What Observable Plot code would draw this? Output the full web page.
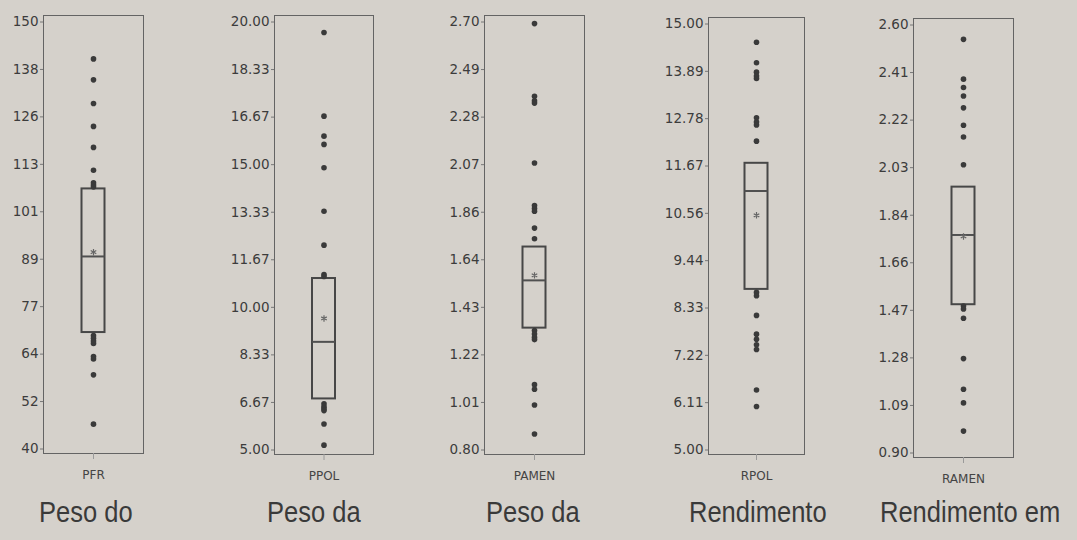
<!DOCTYPE html>
<html>
<head>
<meta charset="utf-8">
<script src="https://cdn.jsdelivr.net/npm/d3@7"></script>
<script src="https://cdn.jsdelivr.net/npm/@observablehq/plot@0.6"></script>
<style>
  html, body { margin: 0; padding: 0; background: #d5d1cb; }
  #chart { position: relative; width: 1077px; height: 540px; overflow: hidden; background: #d5d1cb; }
  .panel { position: absolute; top: 0; }
  .cap { position: absolute; top: 498px; font-family: "Liberation Sans", Arial, sans-serif; font-size: 29px; color: #3a3a3a; white-space: nowrap; line-height: 1; transform-origin: left center; transform: scaleX(0.88); }
</style>
</head>
<body>
<div id="chart"></div>
<script>
// ---- data ----
const variables = ["PFR", "PPOL", "PAMEN", "RPOL", "RAMEN"];
const captions = ["Peso do", "Peso da", "Peso da", "Rendimento", "Rendimento em"];

const pfrPoints = [140.5, 135.1, 129.0, 123.1, 117.7, 111.8, 108.6, 108.0, 107.5, 69.2, 68.5, 67.8, 67.2, 63.8, 63.2, 59.1, 46.4];
const ppolPoints = [19.63, 16.70, 16.00, 15.71, 14.89, 13.37, 12.18, 11.15, 11.08, 6.62, 6.52, 6.45, 6.38, 5.91, 5.17];
const pamenPoints = [2.693, 2.37, 2.35, 2.34, 2.074, 1.885, 1.872, 1.86, 1.785, 1.738, 1.33, 1.315, 1.30, 1.29, 1.09, 1.07, 1.00, 0.871];
const rpolPoints = [14.57, 14.09, 13.87, 13.78, 13.72, 12.80, 12.70, 12.63, 12.25, 8.70, 8.62, 8.16, 7.72, 7.60, 7.47, 7.36, 6.41, 6.02];
const ramenPoints = [2.543, 2.385, 2.352, 2.318, 2.271, 2.202, 2.155, 2.045, 1.484, 1.472, 1.435, 1.275, 1.153, 1.099, 0.987];

const q1Values = [70.0, 6.79, 1.341, 8.77, 1.489];
const medianValues = [89.6, 8.79, 1.553, 11.08, 1.766];
const q3Values = [107.0, 11.01, 1.701, 11.73, 1.956];
const meanValues = [90.7, 9.61, 1.575, 10.51, 1.76];

const yMin = [40, 5, 0.80, 5, 0.90];
const yMax = [150, 20, 2.70, 15, 2.60];
const tickLabels = [
  ["40", "52", "64", "77", "89", "101", "113", "126", "138", "150"],
  ["5.00", "6.67", "8.33", "10.00", "11.67", "13.33", "15.00", "16.67", "18.33", "20.00"],
  ["0.80", "1.01", "1.22", "1.43", "1.64", "1.86", "2.07", "2.28", "2.49", "2.70"],
  ["5.00", "6.11", "7.22", "8.33", "9.44", "10.56", "11.67", "12.78", "13.89", "15.00"],
  ["0.90", "1.09", "1.28", "1.47", "1.66", "1.84", "2.03", "2.22", "2.41", "2.60"]
];
const allPoints = [pfrPoints, ppolPoints, pamenPoints, rpolPoints, ramenPoints];

// ---- layout (pixels) ----
const frameLeft = [43, 274, 484, 708, 913];
const frameWidth = [100, 99, 100, 96, 100];
const frameTop = [15, 15, 15, 17, 18];
const frameBottom = [453, 454, 454, 454, 457];
const captionLeft = [39, 267, 486, 689, 880];
const svgHeight = 495;
const leftPad = 52;
const boxWidth = 23;

const chart = document.getElementById("chart");

variables.forEach((name, i) => {
  const ticks = d3.range(10).map(k => yMin[i] + (yMax[i] - yMin[i]) * k / 9);
  const labels = tickLabels[i];
  const pts = allPoints[i].map(v => ({name, v}));
  const stats = [{name, q1: q1Values[i], med: medianValues[i], q3: q3Values[i], mean: meanValues[i]}];
  const inset = (frameWidth[i] - boxWidth) / 2;

  const plot = Plot.plot({
    width: leftPad + frameWidth[i] + 4,
    height: svgHeight,
    marginLeft: leftPad,
    marginRight: 4,
    marginTop: frameTop[i],
    marginBottom: svgHeight - frameBottom[i],
    style: {background: "transparent", fontFamily: "'DejaVu Sans', Verdana, sans-serif", color: "#3c3c3c"},
    x: {domain: [name], padding: 0, label: null},
    y: {domain: [yMin[i], yMax[i]], insetTop: 6.5, insetBottom: 4.5, label: null},
    marks: [
      Plot.frame({stroke: "#646464", strokeWidth: 1}),
      Plot.axisY({ticks, tickSize: 3, tickPadding: 2, fontSize: 13.5, stroke: "#777", fill: "#3c3c3c",
        tickFormat: d => labels[ticks.indexOf(d)], label: null}),
      Plot.axisX({tickSize: 6, tickPadding: 11, fontSize: 12, stroke: "#9a9a9a", fill: "#444", label: null}),
      Plot.barY(stats, {x: "name", y1: "q1", y2: "q3", fill: "none", stroke: "#474747", strokeWidth: 2, insetLeft: inset, insetRight: inset}),
      Plot.tickY(stats, {x: "name", y: "med", stroke: "#505050", strokeWidth: 2, insetLeft: inset, insetRight: inset}),
      Plot.dot(stats, {x: "name", y: "mean", symbol: "asterisk", r: 3, stroke: "#666", strokeWidth: 1.2}),
      Plot.dot(pts, {x: "name", y: "v", r: 2.8, fill: "#3a3a3a", stroke: "none"})
    ]
  });
  plot.classList.add("panel");
  plot.style.left = (frameLeft[i] - leftPad) + "px";
  chart.appendChild(plot);

  const cap = document.createElement("div");
  cap.className = "cap";
  cap.textContent = captions[i];
  cap.style.left = captionLeft[i] + "px";
  chart.appendChild(cap);
});
</script>
</body>
</html>
